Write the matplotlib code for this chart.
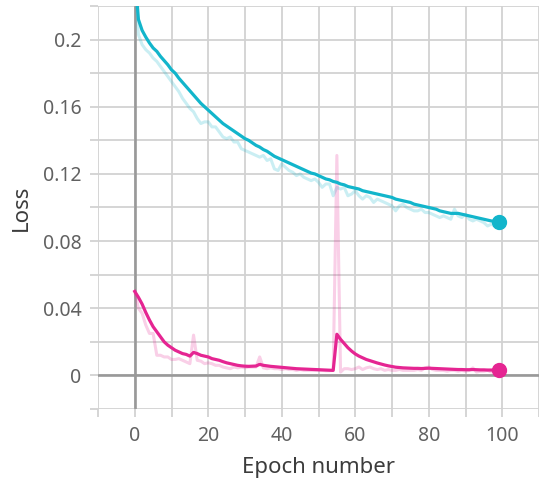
import matplotlib
matplotlib.use('Agg')
import matplotlib.pyplot as plt
import numpy as np

plt.rcParams['font.family'] = ['Noto Sans', 'DejaVu Sans']

# epochs 0..99
epochs = list(range(100))

# training loss (cyan run), raw values per epoch
cyan_raw = [
    0.240, 0.203, 0.197, 0.194, 0.192, 0.189, 0.187, 0.184, 0.181, 0.178,
    0.175, 0.172, 0.169, 0.165, 0.162, 0.159, 0.157, 0.153, 0.150, 0.151,
    0.151, 0.148, 0.148, 0.145, 0.142, 0.141, 0.142, 0.139, 0.139, 0.135,
    0.134, 0.133, 0.132, 0.131, 0.130, 0.131, 0.128, 0.129, 0.123, 0.122,
    0.126, 0.124, 0.122, 0.121, 0.119, 0.120, 0.118, 0.117, 0.116, 0.117,
    0.115, 0.112, 0.114, 0.114, 0.107, 0.112, 0.111, 0.112, 0.107, 0.108,
    0.110, 0.107, 0.105, 0.107, 0.106, 0.103, 0.105, 0.104, 0.103, 0.102,
    0.101, 0.098, 0.101, 0.102, 0.100, 0.099, 0.098, 0.098, 0.099, 0.097,
    0.097, 0.096, 0.095, 0.094, 0.095, 0.094, 0.093, 0.099, 0.095, 0.094,
    0.096, 0.093, 0.092, 0.093, 0.092, 0.091, 0.089, 0.090, 0.089, 0.090,
]
# smoothed curve as displayed
cyan_smooth = [
    0.240, 0.212, 0.2055, 0.2015, 0.198, 0.195, 0.193, 0.190, 0.1875, 0.185,
    0.182, 0.180, 0.177, 0.1745, 0.172, 0.1695, 0.167, 0.1645, 0.162, 0.160,
    0.158, 0.156, 0.154, 0.152, 0.150, 0.1485, 0.147, 0.1455, 0.144, 0.1425,
    0.141, 0.140, 0.1385, 0.137, 0.136, 0.1345, 0.1335, 0.132, 0.1305, 0.1295,
    0.1285, 0.1275, 0.1265, 0.1255, 0.1245, 0.1235, 0.1225, 0.1215, 0.1205, 0.120,
    0.119, 0.118, 0.117, 0.1165, 0.1155, 0.115, 0.114, 0.1135, 0.1125, 0.112,
    0.1115, 0.111, 0.110, 0.1095, 0.109, 0.1085, 0.108, 0.1075, 0.107, 0.1065,
    0.106, 0.105, 0.1045, 0.104, 0.1035, 0.103, 0.102, 0.1015, 0.101, 0.1005,
    0.100, 0.0995, 0.099, 0.098, 0.0975, 0.097, 0.0965, 0.0965, 0.0965, 0.096,
    0.0955, 0.095, 0.0945, 0.094, 0.0935, 0.093, 0.0925, 0.092, 0.0918, 0.0915,
]

# pink run
pink_raw = [
    0.050, 0.040, 0.037, 0.030, 0.025, 0.025, 0.012, 0.012, 0.011, 0.011,
    0.0095, 0.0095, 0.010, 0.009, 0.008, 0.007, 0.024, 0.009, 0.0085, 0.007,
    0.0075, 0.007, 0.006, 0.006, 0.005, 0.0045, 0.004, 0.005, 0.0045, 0.005,
    0.0045, 0.005, 0.005, 0.005, 0.011, 0.0045, 0.004, 0.0045, 0.004, 0.004,
    0.0035, 0.004, 0.0035, 0.0035, 0.003, 0.0035, 0.003, 0.003, 0.003, 0.003,
    0.003, 0.003, 0.0028, 0.0028, 0.003, 0.131, 0.002, 0.004, 0.004, 0.0035,
    0.004, 0.005, 0.0035, 0.0045, 0.005, 0.004, 0.0035, 0.004, 0.003, 0.0035,
    0.003, 0.003, 0.0035, 0.003, 0.003, 0.003, 0.003, 0.0035, 0.003, 0.0045,
    0.005, 0.0035, 0.003, 0.003, 0.003, 0.0025, 0.003, 0.003, 0.0025, 0.003,
    0.0025, 0.003, 0.0045, 0.002, 0.0025, 0.0025, 0.003, 0.002, 0.0025, 0.0025,
]
pink_smooth = [
    0.050, 0.0465, 0.0425, 0.0375, 0.033, 0.029, 0.026, 0.023, 0.020, 0.018,
    0.0165, 0.015, 0.014, 0.013, 0.0125, 0.0115, 0.0137, 0.013, 0.012, 0.0115,
    0.011, 0.010, 0.0095, 0.009, 0.0082, 0.0075, 0.007, 0.0065, 0.006, 0.0057,
    0.0055, 0.0054, 0.0055, 0.0056, 0.0066, 0.006, 0.0057, 0.0054, 0.0052, 0.005,
    0.0048, 0.0046, 0.0044, 0.0042, 0.004, 0.0039, 0.0038, 0.0037, 0.0036, 0.0035,
    0.0034, 0.0033, 0.0032, 0.0031, 0.003, 0.0245, 0.0215, 0.019, 0.0165, 0.0145,
    0.0128, 0.0115, 0.0105, 0.0095, 0.0088, 0.0081, 0.0074, 0.0068, 0.0062, 0.0057,
    0.0053, 0.0049, 0.0047, 0.0045, 0.0044, 0.0043, 0.0042, 0.0042, 0.0041, 0.0042,
    0.0043, 0.0042, 0.0041, 0.004, 0.0039, 0.0038, 0.0037, 0.0036, 0.0035, 0.0035,
    0.0034, 0.0034, 0.0035, 0.0034, 0.0033, 0.0033, 0.0032, 0.0032, 0.0031, 0.0031,
]

x_major = [0, 20, 40, 60, 80, 100]
x_minor = [-10, 10, 30, 50, 70, 90, 110]
y_major = [0, 0.04, 0.08, 0.12, 0.16, 0.2]
y_minor = [-0.02, 0.02, 0.06, 0.1, 0.14, 0.18, 0.22]

CYAN = '#12b5cb'
PINK = '#e52592'
GRID = '#d2d2d2'
AXIS = '#999999'

fig = plt.figure(figsize=(5.39, 4.79), dpi=100)
ax = fig.add_axes([98 / 539, 70 / 479, 441 / 539, 403 / 479])

# grid and zero lines
ax.set_xticks(x_major)
ax.set_xticks(x_minor, minor=True)
ax.set_yticks(y_major)
ax.set_yticks(y_minor, minor=True)
ax.grid(True, which='both', color=GRID, lw=1.3)
ax.axvline(0, color=AXIS, lw=1.9, zorder=2.5)
ax.axhline(0, color=AXIS, lw=1.9, zorder=2.5)

# raw curves (faded)
ax.plot(epochs, cyan_raw, color=CYAN, alpha=0.22, lw=2.2, zorder=3)
ax.plot(epochs, pink_raw, color=PINK, alpha=0.22, lw=2.2, zorder=3)

# smoothed curves
ax.plot(epochs, cyan_smooth, color=CYAN, lw=2.3, zorder=4, solid_joinstyle='round')
ax.plot(epochs, pink_smooth, color=PINK, lw=2.3, zorder=4, solid_joinstyle='round')
ax.plot(epochs[-1], cyan_smooth[-1], 'o', color=CYAN, ms=10, zorder=5)
ax.plot(epochs[-1], pink_smooth[-1], 'o', color=PINK, ms=10, zorder=5)

ax.set_xlim(-10, 110)
ax.set_ylim(-0.02, 0.22)

for s in ax.spines.values():
    s.set_visible(False)

ax.set_xticklabels(['0', '20', '40', '60', '80', '100'])
ax.set_yticklabels(['0', '0.04', '0.08', '0.12', '0.16', '0.2'])
ax.tick_params(which='both', length=6, width=1.3, color=GRID,
               labelcolor='#616161', labelsize=14)
ax.tick_params(axis='y', which='both', pad=6)
ax.tick_params(axis='x', which='both', pad=6)

ax.set_xlabel('Epoch number', fontsize=16, color='#3c3c3c', labelpad=8)
ax.set_ylabel('Loss', fontsize=16, color='#3c3c3c', labelpad=8)

fig.savefig('out.png', dpi=100)
